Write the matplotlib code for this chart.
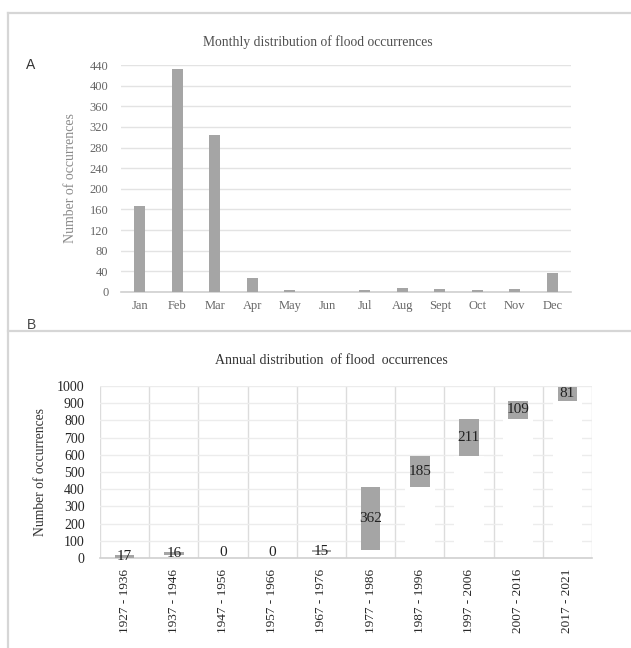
"""Monthly and annual distribution of flood occurrences (two-panel figure)."""

import matplotlib

matplotlib.use("Agg")
import matplotlib.pyplot as plt
import numpy as np
from matplotlib.lines import Line2D

MONTHS = ["Jan", "Feb", "Mar", "Apr", "May", "Jun", "Jul", "Aug", "Sept", "Oct", "Nov", "Dec"]
MONTHLY_COUNTS = [166, 433, 304, 28, 3, 0, 3, 8, 5, 3, 5, 37]

DECADES = [
    "1927 - 1936", "1937 - 1946", "1947 - 1956", "1957 - 1966", "1967 - 1976",
    "1977 - 1986", "1987 - 1996", "1997 - 2006", "2007 - 2016", "2017 - 2021",
]
DECADE_COUNTS = [17, 16, 0, 0, 15, 362, 185, 211, 109, 81]

BAR_COLOR = "#a5a5a5"
GRID_COLOR = "#e3e3e3"
TEXT_GRAY = "#666666"
SERIF = "Liberation Serif"

W, H = 631, 648
fig = plt.figure(figsize=(W / 100, H / 100), dpi=100)
fig.patch.set_facecolor("white")


def fx(px):
    return px / W


def fy(py):
    return 1 - py / H


# panel frame lines
for xs, ys in (
    ((8, W), (13, 13)),
    ((8, W), (331, 331)),
    ((8, 8), (13, H)),
):
    fig.add_artist(Line2D([fx(x) for x in xs], [fy(y) for y in ys],
                          color="#d6d6d6", linewidth=1.6))

fig.text(fx(31), fy(65), "A", family="Liberation Sans", fontsize=10,
         color="#333333", ha="center", va="center")
fig.text(fx(31), fy(325), "B", family="Liberation Sans", fontsize=10,
         color="#444444", ha="center", va="center")

# ---- panel A: monthly ----
ax1 = fig.add_axes([fx(121), fy(292), fx(571) - fx(121), fy(65) - fy(292)])
x1 = np.arange(len(MONTHS))
ax1.bar(x1, MONTHLY_COUNTS, width=0.3, color=BAR_COLOR, zorder=3)
ax1.set_xlim(-0.5, len(MONTHS) - 0.5)
ax1.set_ylim(0, 440)
ax1.set_yticks(np.arange(0, 441, 40))
ax1.set_xticks(x1, MONTHS)
ax1.grid(True, axis="y", color=GRID_COLOR, linewidth=1.0, zorder=0)
ax1.set_axisbelow(True)
for side in ("top", "right", "left"):
    ax1.spines[side].set_visible(False)
ax1.spines["bottom"].set_color("#d0d0d0")
ax1.spines["bottom"].set_linewidth(1.2)
ax1.tick_params(axis="both", length=0, labelsize=9, labelcolor=TEXT_GRAY)
ax1.tick_params(axis="y", pad=9)
ax1.tick_params(axis="x", pad=6)
for lab in ax1.get_xticklabels() + ax1.get_yticklabels():
    lab.set_family(SERIF)
ax1.set_ylabel("Number of occurrences", family=SERIF, fontsize=10, color="#8a8a8a")
ax1.yaxis.set_label_coords((77 - 121) / 450, 0.5)
fig.text(fx(318), fy(42), "Monthly distribution of flood occurrences",
         family=SERIF, fontsize=9.8, color="#505050", ha="center", va="center")

# ---- panel B: annual waterfall ----
ax2 = fig.add_axes([fx(100), fy(558), fx(592) - fx(100), fy(386) - fy(558)])
x2 = np.arange(len(DECADES))
counts = np.array(DECADE_COUNTS)
bases = np.concatenate(([0], np.cumsum(counts)[:-1]))
ax2.bar(x2, bases, width=0.6, color="white", zorder=2)
ax2.bar(x2, counts, bottom=bases, width=0.4, color=BAR_COLOR, zorder=3)
for xi, b, v in zip(x2, bases, counts):
    ax2.text(xi, b + v / 2, f"{v}", family=SERIF, fontsize=11, color="#222222",
             ha="center", va="center", zorder=4)
ax2.set_xlim(-0.5, len(DECADES) - 0.5)
ax2.set_ylim(0, 1000)
ax2.set_yticks(np.arange(0, 1001, 100))
ax2.set_xticks(x2, DECADES, rotation=90)
ax2.set_xticks(np.arange(-0.5, len(DECADES), 1.0), minor=True)
ax2.grid(True, axis="y", which="major", color="#ececec", linewidth=1.0, zorder=0)
ax2.grid(True, axis="x", which="minor", color="#dcdcdc", linewidth=1.0, zorder=1)
ax2.grid(False, axis="x", which="major")
ax2.set_axisbelow(True)
for side in ("top", "right", "left"):
    ax2.spines[side].set_visible(False)
ax2.spines["bottom"].set_color("#d0d0d0")
ax2.spines["bottom"].set_linewidth(1.2)
ax2.tick_params(axis="both", which="both", length=0, labelcolor="#262626")
ax2.tick_params(axis="y", labelsize=10, pad=11)
ax2.tick_params(axis="x", labelsize=9.5, pad=8)
for lab in ax2.get_xticklabels() + ax2.get_yticklabels():
    lab.set_family(SERIF)
ax2.set_ylabel("Number of occurrences", family=SERIF, fontsize=9.8, color="#333333")
ax2.yaxis.set_label_coords((47 - 100) / 492, 0.5)
fig.text(fx(331), fy(360), "Annual distribution  of flood  occurrences",
         family=SERIF, fontsize=10, color="#333333", ha="center", va="center")

fig.savefig("out.png", dpi=100, facecolor="white")
